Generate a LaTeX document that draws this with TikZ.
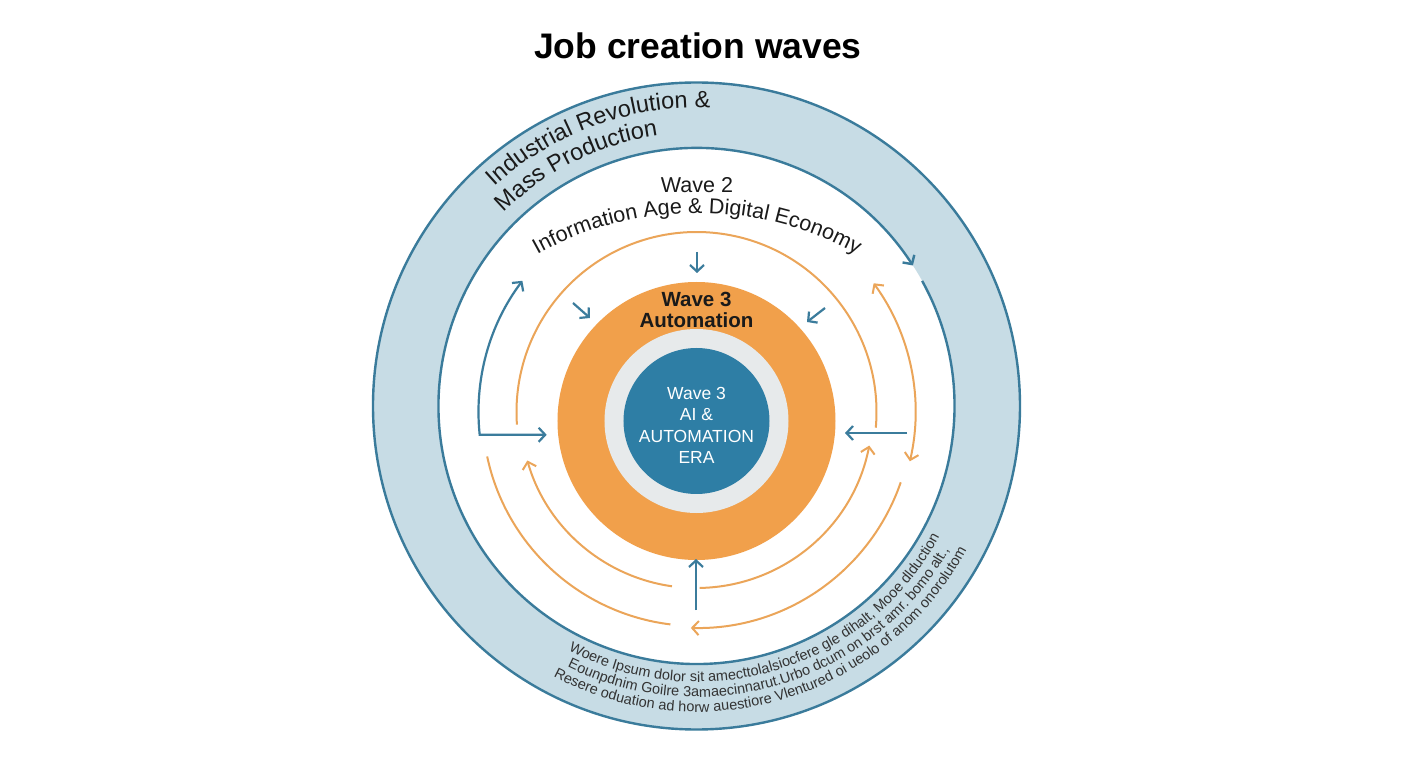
\documentclass[tikz,border=0pt]{standalone}
\usepackage{fontspec}
\setmainfont{Liberation Sans}
\usetikzlibrary{arrows.meta,decorations.text}
\definecolor{ringfill}{HTML}{C7DCE5}
\definecolor{ringline}{HTML}{3A7B9B}
\definecolor{orng}{HTML}{F1A04B}
\definecolor{orngline}{HTML}{EBA559}
\definecolor{bluec}{HTML}{2E7EA5}
\definecolor{grayring}{HTML}{E7EAEB}
\definecolor{arrowblue}{HTML}{3B7C9C}
\definecolor{txt}{HTML}{1A1A1A}
\definecolor{smalltxt}{HTML}{333333}
\begin{document}
\begin{tikzpicture}[x=1pt,y=1pt,
  barb/.style={-{Straight Barb[length=6.5pt,width=14pt]}},
  barbboth/.style={{Straight Barb[length=6.5pt,width=14pt]}-{Straight Barb[length=6.5pt,width=14pt]}},
  bluearrow/.style={draw=arrowblue, line width=2.2pt},
  orangearc/.style={draw=orngline, line width=2pt},
  ringborder/.style={draw=ringline, line width=2.4pt},
  disc/.style={circle, inner sep=0pt, outer sep=0pt, draw=none}]
\useasboundingbox (-696.5,-362) rectangle (711.5,406);
\fill[white] (-696.5,-362) rectangle (711.5,406);

% title
\node[font=\bfseries\fontsize{35.5}{38}\selectfont, text=black] (title) at (1.5,360) {Job creation waves};

% outer ring
\coordinate (C) at (0,0);
\fill[ringfill, even odd rule] (C) circle (323.5) (C) circle (258);
\draw[ringborder] (C) circle (323.5);
\draw[ringborder, barb] (29:258) arc[start angle=29, end angle=-327, radius=258];

% ring texts
\path[decorate, decoration={text along path, text align=center, text color=txt,
  text={|\fontsize{23.5}{25}\selectfont|Industrial Revolution {\&}}}]
  (142:298) arc[start angle=142, end angle=78, radius=298];
\path[decorate, decoration={text along path, text align=center, text color=txt,
  text={|\fontsize{23.5}{25}\selectfont|Mass Production}}]
  (147:273) arc[start angle=147, end angle=86, radius=273];

\path[decorate, decoration={text along path, text align=center, text color=smalltxt,
  text={|\fontsize{14.5}{15}\selectfont|Woere Ipsum dolor sit amecttolalsiocfere gle dihalt, Mooe dlduction}}]
  (-132:276) arc[start angle=-132, end angle=-14, radius=276];
\path[decorate, decoration={text along path, text align=center, text color=smalltxt,
  text={|\fontsize{14.5}{15}\selectfont|Eounpdnim Goilre 3amaecinnarut.Urbo dcum on brst amr. bomo alt.,}}]
  (-132:291) arc[start angle=-132, end angle=-14, radius=291];
\path[decorate, decoration={text along path, text align=center, text color=smalltxt,
  text={|\fontsize{14.5}{15}\selectfont|Resere oduation ad horw auestiore Vlentured oi ueolo of anom onorolutom}}]
  (-132:306) arc[start angle=-132, end angle=-14, radius=306];

% wave 2
\node[font=\fontsize{21.5}{24}\selectfont, text=txt] (w2) at (0.5,221) {Wave 2};
\path[shift={(0.5,-135)}, decorate, decoration={text along path, text align=center, text color=txt,
  text={|\fontsize{21.5}{24}\selectfont|Information Age {\&} Digital Economy}}]
  (128:328) arc[start angle=128, end angle=52, radius=328];

% central discs
\node[disc, fill=orng, minimum size=278pt] (orange) at (0,-15) {};
\node[disc, fill=grayring, minimum size=184pt] (gray) at (0,-15) {};
\node[disc, fill=bluec, minimum size=146pt] (core) at (0,-15) {};
\node[font=\bfseries\fontsize{20.5}{21}\selectfont, text=txt, align=center] (w3a) at (0,96) {Wave 3\\Automation};
\node[font=\fontsize{17.5}{21.5}\selectfont, text=white, align=center] (w3b) at (0,-19.5) {Wave 3\\AI \&\\AUTOMATION\\ERA};

% orange arcs
\coordinate (A) at (0,-6);
\draw[orangearc] (A) ++(-5:180) arc[start angle=-5, end angle=184, radius=180];
\draw[orangearc, barbboth] (A) ++(36:219) arc[start angle=36, end angle=-13, radius=219];
\draw[orangearc, barb] (A) ++(-19:216) arc[start angle=-19, end angle=-91.5, radius=216];
\draw[orangearc] (A) ++(-97:214) arc[start angle=-97, end angle=-168, radius=214];
\draw[orangearc, barb] (A) ++(-98:176) arc[start angle=-98, end angle=-164, radius=176];
\draw[orangearc, barb] (A) ++(-89:176) arc[start angle=-89, end angle=-11, radius=176];

% blue arrows
\draw[bluearrow, barbboth] (A) ++(143:218) arc[start angle=143, end angle=186, radius=218] -- ++(67,0);
\coordinate (r1) at (210.5,-27);
\coordinate (r2) at (148.5,-27);
\draw[bluearrow, barb] (r1) -- (r2);
\coordinate (t1) at (0.5,154);
\coordinate (t2) at (0.5,133);
\draw[bluearrow, barb] (t1) -- (t2);
\coordinate (l1) at (-123.5,103);
\coordinate (l2) at (-106.5,88);
\draw[bluearrow, barb] (l1) -- (l2);
\coordinate (q1) at (128.5,98);
\coordinate (q2) at (110.5,84);
\draw[bluearrow, barb] (q1) -- (q2);
\coordinate (b1) at (-0.5,-204);
\coordinate (b2) at (-0.5,-153);
\draw[bluearrow, barb] (b1) -- (b2);
\end{tikzpicture}
\end{document}
